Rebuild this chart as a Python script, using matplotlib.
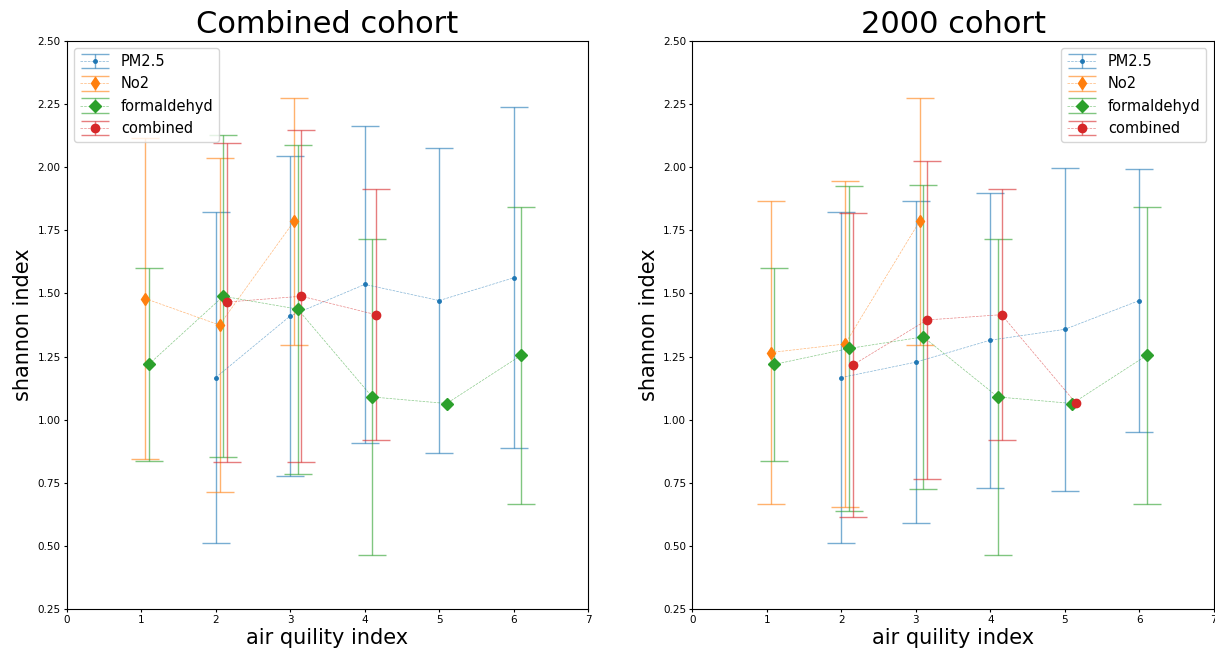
import numpy as np
import matplotlib.pyplot as plt
from matplotlib.colors import to_rgba

# Valores: media y desviacion por indice de calidad del aire
x_pm = [2, 3, 4, 5, 6]
x_no2 = [1, 2, 3]
x_form = [1, 2, 3, 4, 5, 6]
x_comb_all = [2, 3, 4]
x_comb_2000 = [2, 3, 4, 5]

# Combined cohort
pm_all = [1.167, 1.411, 1.536, 1.472, 1.562]
pm_all_sd = [0.656, 0.633, 0.628, 0.604, 0.675]
no2_all = [1.480, 1.375, 1.786]
no2_all_sd = [0.635, 0.663, 0.490]
form_all = [1.219, 1.489, 1.438, 1.090, 1.064, 1.255]
form_all_sd = [0.383, 0.637, 0.652, 0.626, np.nan, 0.588]
comb_all = [1.466, 1.489, 1.416]
comb_all_sd = [0.632, 0.658, 0.498]

# 2000 cohort
pm_2000 = [1.167, 1.228, 1.315, 1.358, 1.472]
pm_2000_sd = [0.656, 0.637, 0.585, 0.640, 0.522]
no2_2000 = [1.266, 1.300, 1.786]
no2_2000_sd = [0.599, 0.647, 0.490]
form_2000 = [1.219, 1.282, 1.328, 1.090, 1.064, 1.255]
form_2000_sd = [0.383, 0.645, 0.602, 0.626, np.nan, 0.588]
comb_2000 = [1.216, 1.395, 1.416, 1.065]
comb_2000_sd = [0.603, 0.629, 0.498, np.nan]

yticks = [0.25, 0.50, 0.75, 1.00, 1.25, 1.50, 1.75, 2.00, 2.25, 2.50]


def dibujar(ax, titulo, series, legend_loc):
    # cada serie se desplaza un poco en x para que no se pisen las barras
    colores = ['tab:blue', 'tab:orange', 'tab:green', 'tab:red']
    for i, (xs, ys, sd, fmt, ms, nombre) in enumerate(series):
        xx = np.array(xs) + 0.05 * i
        col = colores[i]
        ax.errorbar(xx, ys, yerr=sd, fmt=fmt, ms=ms, ls='--', lw=0.5,
                    color=to_rgba(col, 0.55), mfc=col, mec=col,
                    ecolor=to_rgba(col, 0.6), capsize=10, elinewidth=1,
                    label=nombre)
    ax.set_xlim(0, 7)
    ax.set_ylim(0.25, 2.5)
    ax.set_yticks(yticks)
    ax.set_yticklabels([f'{v:.2f}' for v in yticks])
    ax.tick_params(labelsize=7.5, length=2.5, pad=2)
    ax.set_title(titulo, fontsize=22)
    ax.set_xlabel("air quility index", fontsize=15, labelpad=2)
    ax.set_ylabel("shannon index", fontsize=15, labelpad=3)
    ax.legend(loc=legend_loc, fontsize=10.5)


fig, (ax1, ax2) = plt.subplots(1, 2, figsize=(12.15, 6.52), dpi=100)
fig.subplots_adjust(left=0.055, right=0.999, top=0.937, bottom=0.066, wspace=0.2)

dibujar(ax1, "Combined cohort", [
    (x_pm, pm_all, pm_all_sd, '.', 5, 'PM2.5'),
    (x_no2, no2_all, no2_all_sd, 'd', 6, 'No2'),
    (x_form, form_all, form_all_sd, 'D', 6, 'formaldehyd'),
    (x_comb_all, comb_all, comb_all_sd, 'o', 6, 'combined'),
], 'upper left')

dibujar(ax2, "2000 cohort", [
    (x_pm, pm_2000, pm_2000_sd, '.', 5, 'PM2.5'),
    (x_no2, no2_2000, no2_2000_sd, 'd', 6, 'No2'),
    (x_form, form_2000, form_2000_sd, 'D', 6, 'formaldehyd'),
    (x_comb_2000, comb_2000, comb_2000_sd, 'o', 6, 'combined'),
], 'upper right')

fig.savefig("out.png", dpi=100)
